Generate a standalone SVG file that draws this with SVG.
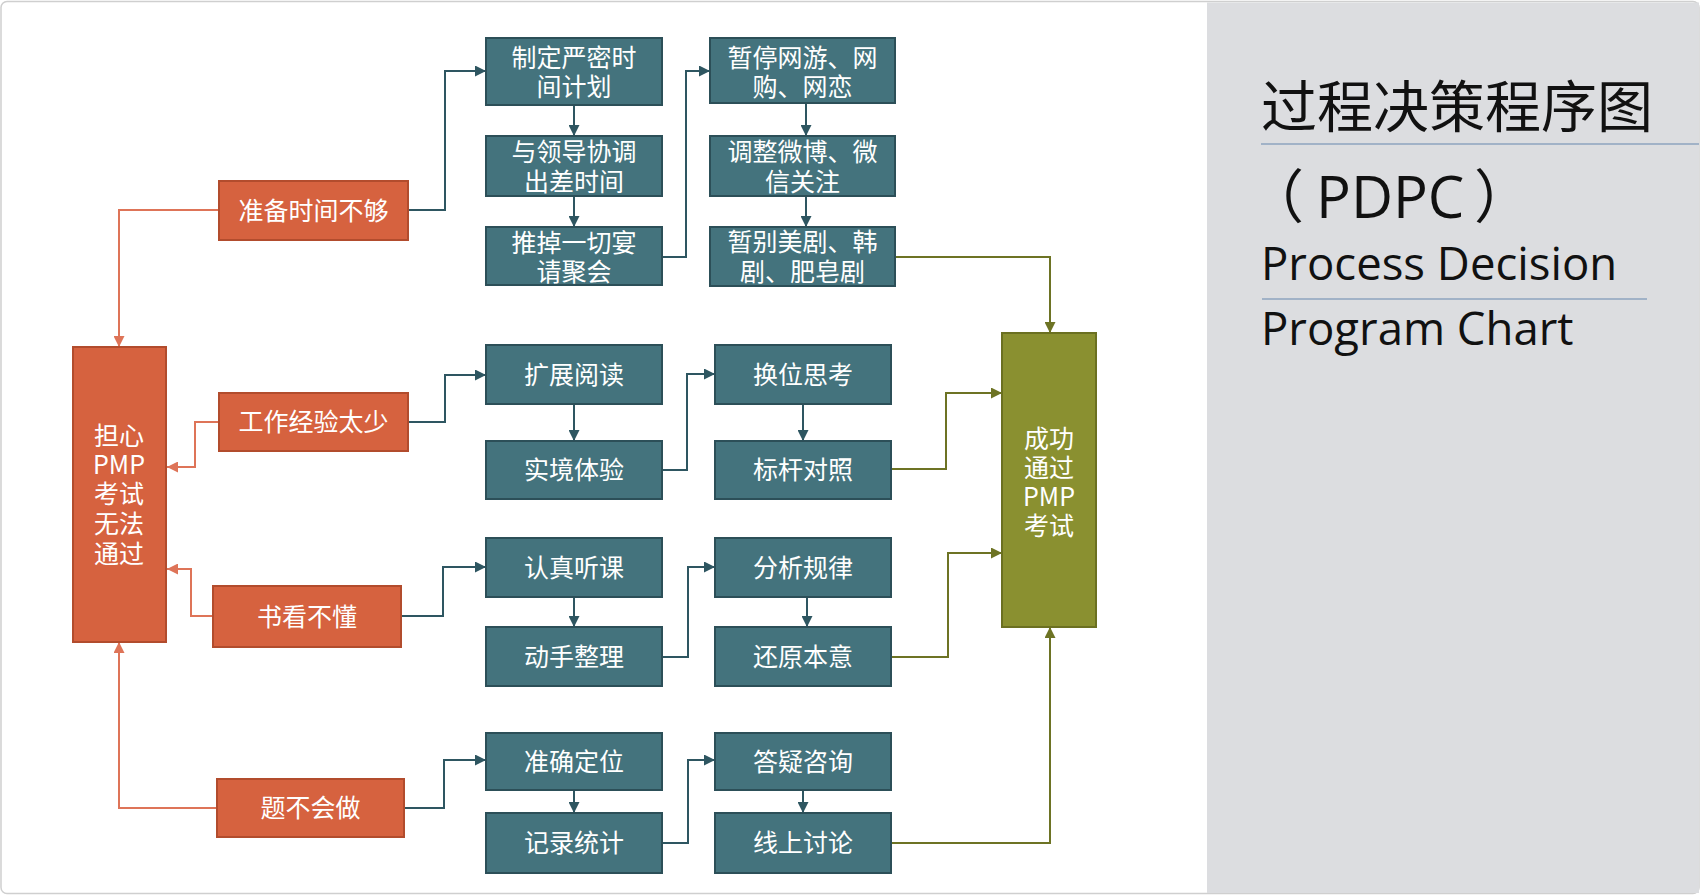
<svg xmlns="http://www.w3.org/2000/svg" width="1701" height="896" viewBox="0 0 1701 896">
<style>
.o rect{fill:#d6623f;stroke:#b24c2d;stroke-width:2}
.t rect{fill:#44737d;stroke:#2c4f58;stroke-width:2}
.g rect{fill:#8a9030;stroke:#6b7021;stroke-width:2}
text.n{font-family:"Noto Sans CJK SC","Noto Sans",sans-serif;font-size:25px;fill:#ffffff;text-anchor:middle}
.co{fill:none;stroke:#de7458;stroke-width:2}
.ct{fill:none;stroke:#2e5661;stroke-width:2}
.cg{fill:none;stroke:#6d7324;stroke-width:2}
.zh{font-family:"Noto Sans CJK SC",sans-serif;fill:#111111}
.en{font-family:"Open Sans","Noto Sans",sans-serif;fill:#111111}
</style>
<defs>
<marker id="ao" viewBox="0 0 10 10" refX="10" refY="5" markerWidth="11" markerHeight="11" markerUnits="userSpaceOnUse" orient="auto"><path d="M0,0L10,5L0,10z" fill="#de7458"/></marker>
<marker id="at" viewBox="0 0 10 10" refX="10" refY="5" markerWidth="11" markerHeight="11" markerUnits="userSpaceOnUse" orient="auto"><path d="M0,0L10,5L0,10z" fill="#2e5661"/></marker>
<marker id="ag" viewBox="0 0 10 10" refX="10" refY="5" markerWidth="11" markerHeight="11" markerUnits="userSpaceOnUse" orient="auto"><path d="M0,0L10,5L0,10z" fill="#6d7324"/></marker>
</defs>
<rect x="1" y="1.5" width="1698" height="892" rx="6" fill="#ffffff" stroke="#cfcfcf" stroke-width="1.5"/>
<rect x="1207" y="2.5" width="492" height="890.5" fill="#dcdde0"/>

<g id="title">
<text class="zh" x="1261" y="127" font-size="56">过程决策程序图</text>
<line x1="1261" y1="144" x2="1699" y2="144" stroke="#8ea3bf" stroke-width="1.5"/>
<text class="zh" x="1246" y="218" font-size="58">（ <tspan class="en" x="1316">PDPC </tspan><tspan x="1474">）</tspan></text>
<text class="en" x="1261" y="280" font-size="45.5">Process Decision</text>
<line x1="1262" y1="299" x2="1647" y2="299" stroke="#8ea3bf" stroke-width="1.5"/>
<text class="en" x="1261" y="345" font-size="45.5">Program Chart</text>
</g>

<g id="connectors">
<path class="co" d="M219,210H119V347" marker-end="url(#ao)"/>
<path class="co" d="M219,422H195V467H167" marker-end="url(#ao)"/>
<path class="co" d="M213,616H191V569H167" marker-end="url(#ao)"/>
<path class="co" d="M217,808H119V642" marker-end="url(#ao)"/>
<path class="ct" d="M408,210H445V71H486" marker-end="url(#at)"/>
<path class="ct" d="M574,105V136" marker-end="url(#at)"/>
<path class="ct" d="M574,196V227" marker-end="url(#at)"/>
<path class="ct" d="M662,257H686V71H710" marker-end="url(#at)"/>
<path class="ct" d="M806,103V136" marker-end="url(#at)"/>
<path class="ct" d="M806,196V227" marker-end="url(#at)"/>
<path class="ct" d="M408,422H445V375H486" marker-end="url(#at)"/>
<path class="ct" d="M574,404V441" marker-end="url(#at)"/>
<path class="ct" d="M662,470H687V374H715" marker-end="url(#at)"/>
<path class="ct" d="M803,404V441" marker-end="url(#at)"/>
<path class="ct" d="M401,616H443V567H486" marker-end="url(#at)"/>
<path class="ct" d="M574,597V627" marker-end="url(#at)"/>
<path class="ct" d="M662,657H688V567H715" marker-end="url(#at)"/>
<path class="ct" d="M807,597V627" marker-end="url(#at)"/>
<path class="ct" d="M404,808H444V760H486" marker-end="url(#at)"/>
<path class="ct" d="M574,790V813" marker-end="url(#at)"/>
<path class="ct" d="M662,843H688V760H715" marker-end="url(#at)"/>
<path class="ct" d="M803,790V813" marker-end="url(#at)"/>
<path class="cg" d="M895,257H1050V333" marker-end="url(#ag)"/>
<path class="cg" d="M891,469H946V393H1002" marker-end="url(#ag)"/>
<path class="cg" d="M891,657H948V553H1002" marker-end="url(#ag)"/>
<path class="cg" d="M891,843H1050V627" marker-end="url(#ag)"/>
</g>

<g id="worry" class="o"><rect x="73" y="347" width="93" height="295"/>
<text class="n" x="119" y="445">担心</text><text class="n" x="119" y="474">PMP</text><text class="n" x="119" y="503">考试</text><text class="n" x="119" y="533">无法</text><text class="n" x="119" y="563">通过</text></g>
<g id="c1" class="o"><rect x="219" y="181" width="189" height="59"/><text class="n" x="313.5" y="219.5">准备时间不够</text></g>
<g id="c2" class="o"><rect x="219" y="393" width="189" height="58"/><text class="n" x="313.5" y="431">工作经验太少</text></g>
<g id="c3" class="o"><rect x="213" y="586" width="188" height="61"/><text class="n" x="307" y="625.5">书看不懂</text></g>
<g id="c4" class="o"><rect x="217" y="779" width="187" height="58"/><text class="n" x="310.5" y="817">题不会做</text></g>

<g id="a1" class="t"><rect x="486" y="38" width="176" height="67"/><text class="n" x="574" y="67">制定严密时</text><text class="n" x="574" y="96">间计划</text></g>
<g id="a2" class="t"><rect x="486" y="136" width="176" height="60"/><text class="n" x="574" y="161">与领导协调</text><text class="n" x="574" y="191">出差时间</text></g>
<g id="a3" class="t"><rect x="486" y="227" width="176" height="58"/><text class="n" x="574" y="252">推掉一切宴</text><text class="n" x="574" y="281">请聚会</text></g>
<g id="b1" class="t"><rect x="710" y="38" width="185" height="65"/><text class="n" x="802.5" y="66.5">暂停网游、网</text><text class="n" x="802.5" y="96">购、网恋</text></g>
<g id="b2" class="t"><rect x="710" y="136" width="185" height="60"/><text class="n" x="802.5" y="161">调整微博、微</text><text class="n" x="802.5" y="191">信关注</text></g>
<g id="b3" class="t"><rect x="710" y="227" width="185" height="59"/><text class="n" x="802.5" y="251">暂别美剧、韩</text><text class="n" x="802.5" y="281">剧、肥皂剧</text></g>

<g id="d1" class="t"><rect x="486" y="345" width="176" height="59"/><text class="n" x="574" y="384">扩展阅读</text></g>
<g id="d2" class="t"><rect x="486" y="441" width="176" height="58"/><text class="n" x="574" y="479">实境体验</text></g>
<g id="e1" class="t"><rect x="715" y="345" width="176" height="59"/><text class="n" x="803" y="384">换位思考</text></g>
<g id="e2" class="t"><rect x="715" y="441" width="176" height="58"/><text class="n" x="803" y="479">标杆对照</text></g>

<g id="f1" class="t"><rect x="486" y="538" width="176" height="59"/><text class="n" x="574" y="577">认真听课</text></g>
<g id="f2" class="t"><rect x="486" y="627" width="176" height="59"/><text class="n" x="574" y="666">动手整理</text></g>
<g id="h1" class="t"><rect x="715" y="538" width="176" height="59"/><text class="n" x="803" y="577">分析规律</text></g>
<g id="h2" class="t"><rect x="715" y="627" width="176" height="59"/><text class="n" x="803" y="666">还原本意</text></g>

<g id="i1" class="t"><rect x="486" y="733" width="176" height="57"/><text class="n" x="574" y="771">准确定位</text></g>
<g id="i2" class="t"><rect x="486" y="813" width="176" height="60"/><text class="n" x="574" y="852">记录统计</text></g>
<g id="j1" class="t"><rect x="715" y="733" width="176" height="57"/><text class="n" x="803" y="771">答疑咨询</text></g>
<g id="j2" class="t"><rect x="715" y="813" width="176" height="60"/><text class="n" x="803" y="852">线上讨论</text></g>

<g id="success" class="g"><rect x="1002" y="333" width="94" height="294"/>
<text class="n" x="1049" y="448">成功</text><text class="n" x="1049" y="477">通过</text><text class="n" x="1049" y="506">PMP</text><text class="n" x="1049" y="535">考试</text></g>
</svg>
